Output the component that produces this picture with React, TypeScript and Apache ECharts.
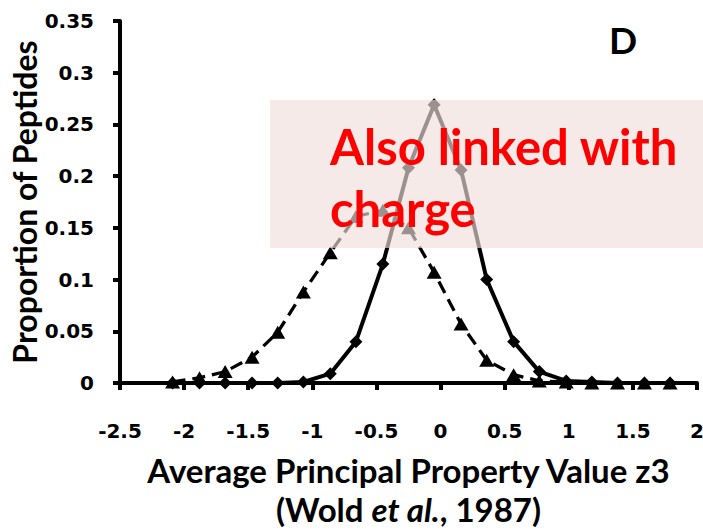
import React, { useEffect, useRef } from "react";
import * as echarts from "echarts";

// Bin centres of the average z3 value
const zValues = [
  -2.09, -1.88, -1.68, -1.47, -1.27, -1.07, -0.86, -0.66, -0.45, -0.25,
  -0.05, 0.16, 0.36, 0.57, 0.77, 0.98, 1.18, 1.38, 1.59, 1.79,
];

// Proportion of peptides per bin, dashed series (triangles)
const triangleSeries = [
  0.001, 0.005, 0.011, 0.025, 0.049, 0.088, 0.126, 0.161, 0.167, 0.15,
  0.107, 0.057, 0.022, 0.008, 0.002, 0.001, 0, 0, 0, 0,
];

// Proportion of peptides per bin, solid series (diamonds)
const diamondSeries = [
  0, 0, 0, 0, 0, 0.001, 0.009, 0.04, 0.115, 0.208,
  0.269, 0.206, 0.1, 0.04, 0.011, 0.002, 0.001, 0, 0, 0,
];

const TITLE_FONT = "Lato, 'Open Sans', sans-serif";
const TICK_FONT = "'DejaVu Sans', Verdana, sans-serif";

export default function App() {
  const ref = useRef<HTMLDivElement>(null);

  useEffect(() => {
    if (!ref.current) return;
    const chart = echarts.init(ref.current, undefined, { renderer: "svg" });

    const pairs = (ys: number[]) => zValues.map((x, i) => [x, ys[i]]);

    chart.setOption({
      animation: false,
      backgroundColor: "#ffffff",
      grid: {
        left: 120,
        top: 21,
        width: 577,
        height: 362,
        outerBoundsMode: "none",
      },
      xAxis: {
        type: "value",
        min: -2.5,
        max: 2,
        interval: 0.5,
        splitLine: { show: false },
        axisLine: { onZero: false, lineStyle: { color: "#000", width: 4 } },
        axisTick: { show: true, length: 7, lineStyle: { color: "#000", width: 4 } },
        axisLabel: {
          color: "#000",
          fontFamily: TICK_FONT,
          fontWeight: "bold",
          fontSize: 20,
          margin: 38,
        },
        name: "Average Principal Property Value z3\n(Wold {i|et al.}, 1987)",
        nameLocation: "middle",
        nameGap: 67,
        nameMoveOverlap: false,
        nameTextStyle: {
          color: "#000",
          fontFamily: TITLE_FONT,
          fontWeight: "bold",
          fontSize: 33,
          lineHeight: 39,
          rich: {
            i: {
              color: "#000",
              fontFamily: TITLE_FONT,
              fontWeight: "bold",
              fontStyle: "italic",
              fontSize: 33,
              lineHeight: 39,
            },
          },
        },
      },
      yAxis: {
        type: "value",
        min: 0,
        max: 0.35,
        interval: 0.05,
        splitLine: { show: false },
        axisLine: { show: true, onZero: false, lineStyle: { color: "#000", width: 4 } },
        axisTick: { show: true, length: 7, lineStyle: { color: "#000", width: 4 } },
        axisLabel: {
          color: "#000",
          fontFamily: TICK_FONT,
          fontWeight: "bold",
          fontSize: 20,
          margin: 26,
        },
        name: "Proportion of Peptides",
        nameLocation: "middle",
        nameGap: 80,
        nameMoveOverlap: false,
        nameTextStyle: {
          color: "#000",
          fontFamily: TITLE_FONT,
          fontWeight: "bold",
          fontSize: 32,
        },
      },
      series: [
        {
          type: "line",
          data: pairs(triangleSeries),
          symbol: "triangle",
          symbolSize: [15, 13],
          showAllSymbol: true,
          itemStyle: { color: "#000" },
          lineStyle: { color: "#000", width: 3.3, type: [13, 7] },
          z: 3,
        },
        {
          type: "line",
          data: pairs(diamondSeries),
          symbol: "diamond",
          symbolSize: 13,
          showAllSymbol: true,
          itemStyle: { color: "#000" },
          lineStyle: { color: "#000", width: 4 },
          z: 4,
        },
      ],
      graphic: [
        {
          type: "rect",
          z: 100,
          shape: { x: 270, y: 100, width: 433, height: 148 },
          style: { fill: "rgba(240, 222, 219, 0.65)" },
        },
        {
          type: "text",
          z: 101,
          x: 330,
          y: 115,
          style: {
            text: "Also linked with\ncharge",
            fill: "#ff0000",
            font: `bold 49px ${TITLE_FONT}`,
            lineHeight: 62,
            textAlign: "left",
            textVerticalAlign: "top",
          },
        },
        {
          type: "text",
          z: 101,
          x: 623,
          y: 39,
          style: {
            text: "D",
            fill: "#000",
            font: `bold 37px ${TITLE_FONT}`,
            textAlign: "center",
            textVerticalAlign: "middle",
          },
        },
      ],
    });

    return () => chart.dispose();
  }, []);

  return (
    <div
      ref={ref}
      style={{ position: "fixed", left: 0, top: 0, width: 703, height: 532 }}
    />
  );
}
